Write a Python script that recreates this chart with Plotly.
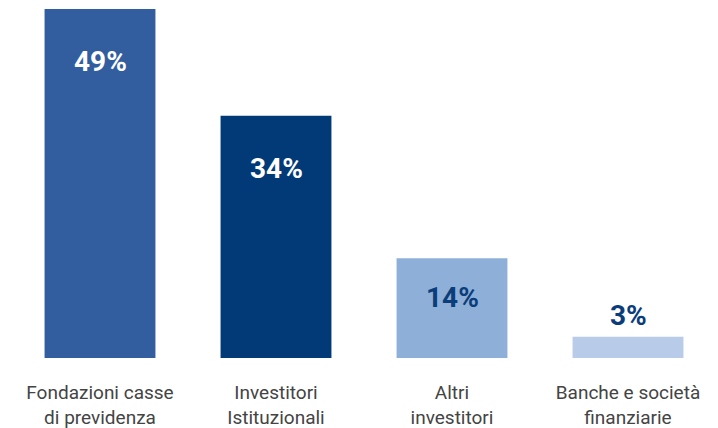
import plotly.graph_objects as go

categories = ["Fondazioni casse<br>di previdenza", "Investitori<br>Istituzionali",
              "Altri<br>investitori", "Banche e società<br>finanziarie"]
values = [49, 34, 14, 3]
labels = ["49%", "34%", "14%", "3%"]

bar_colors = ["#325d9e", "#023a78", "#8eb0d8", "#b8cbe8"]
label_colors = ["#ffffff", "#ffffff", "#0b3d7a", "#0b3d7a"]
label_anchor = ["top", "top", "top", "bottom"]
label_shift = [-34, -34, -21, 3]

fig = go.Figure(go.Bar(
    x=list(range(len(categories))), y=values,
    marker=dict(color=bar_colors, line=dict(width=0)),
    hoverinfo="skip",
))

for i, (v, t) in enumerate(zip(values, labels)):
    fig.add_annotation(x=i, y=v, text="<b>" + t + "</b>", showarrow=False,
                       yanchor=label_anchor[i], yshift=label_shift[i],
                       font=dict(family="Roboto", size=28, color=label_colors[i]))

fig.update_layout(
    width=718, height=428,
    margin=dict(l=12, r=2, t=9, b=70, autoexpand=False),
    paper_bgcolor="white", plot_bgcolor="white",
    bargap=0.37,
    showlegend=False,
    xaxis=dict(tickmode="array", tickvals=list(range(len(categories))), ticktext=categories,
               range=[-0.5, 3.5], showgrid=False, zeroline=False, showline=False,
               ticks="", ticklabelstandoff=21, automargin=False,
               tickfont=dict(family="Roboto", size=19, color="#444444")),
    yaxis=dict(range=[0, 49], visible=False, showgrid=False, zeroline=False, automargin=False),
)

fig.write_html("out.html")
